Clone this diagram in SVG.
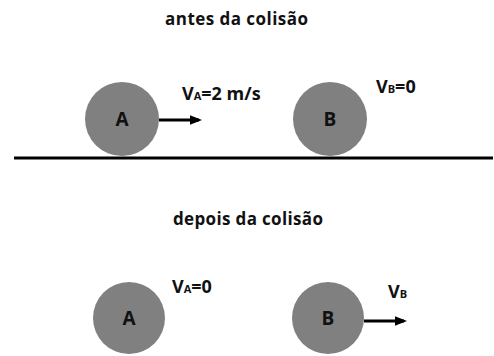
<svg xmlns="http://www.w3.org/2000/svg" width="494" height="356" viewBox="0 0 494 356">
<style>
.ball{fill:#808080}
.t{font-family:"Open Sans","Liberation Sans",sans-serif;font-weight:bold;fill:#111}
.title{font-size:17px}
.lbl{font-size:18px}
.sub{font-size:11px}
.name{font-size:19px;text-anchor:middle}
.arr{stroke:#000;stroke-width:3;fill:none}
</style>
<defs>
<marker id="ah" markerWidth="4" markerHeight="3.2" refX="3" refY="1.6" orient="auto" markerUnits="strokeWidth">
<path d="M0,0 L4,1.6 L0,3.2 Z" fill="#000"/>
</marker>
</defs>
<rect width="494" height="356" fill="#fff"/>
<text class="t title" x="165" y="25" textLength="143">antes da colisão</text>
<text class="t title" x="173" y="225" textLength="150">depois da colisão</text>
<line x1="14" y1="158" x2="493" y2="158" stroke="#000" stroke-width="3"/>
<g id="ballA1"><circle class="ball" cx="122" cy="119" r="37"/><text class="t name" x="122" y="126">A</text></g>
<g id="ballB1"><circle class="ball" cx="330" cy="119" r="37"/><text class="t name" x="330" y="126">B</text></g>
<g id="ballA2"><circle class="ball" cx="129" cy="318" r="36"/><text class="t name" x="129" y="325">A</text></g>
<g id="ballB2"><circle class="ball" cx="328" cy="318" r="36"/><text class="t name" x="328" y="325">B</text></g>
<g id="labels">
<text class="t lbl" x="182" y="100">V<tspan class="sub">A</tspan>=2 m/s</text>
<text class="t lbl" x="376" y="93">V<tspan class="sub">B</tspan>=0</text>
<text class="t lbl" x="172" y="293">V<tspan class="sub">A</tspan>=0</text>
<text class="t lbl" x="388" y="298">V<tspan class="sub">B</tspan></text>
</g>
<g id="connectors">
<line class="arr" x1="159" y1="120" x2="199" y2="120" marker-end="url(#ah)"/>
<line class="arr" x1="364" y1="321" x2="404" y2="321" marker-end="url(#ah)"/>
</g>
</svg>
